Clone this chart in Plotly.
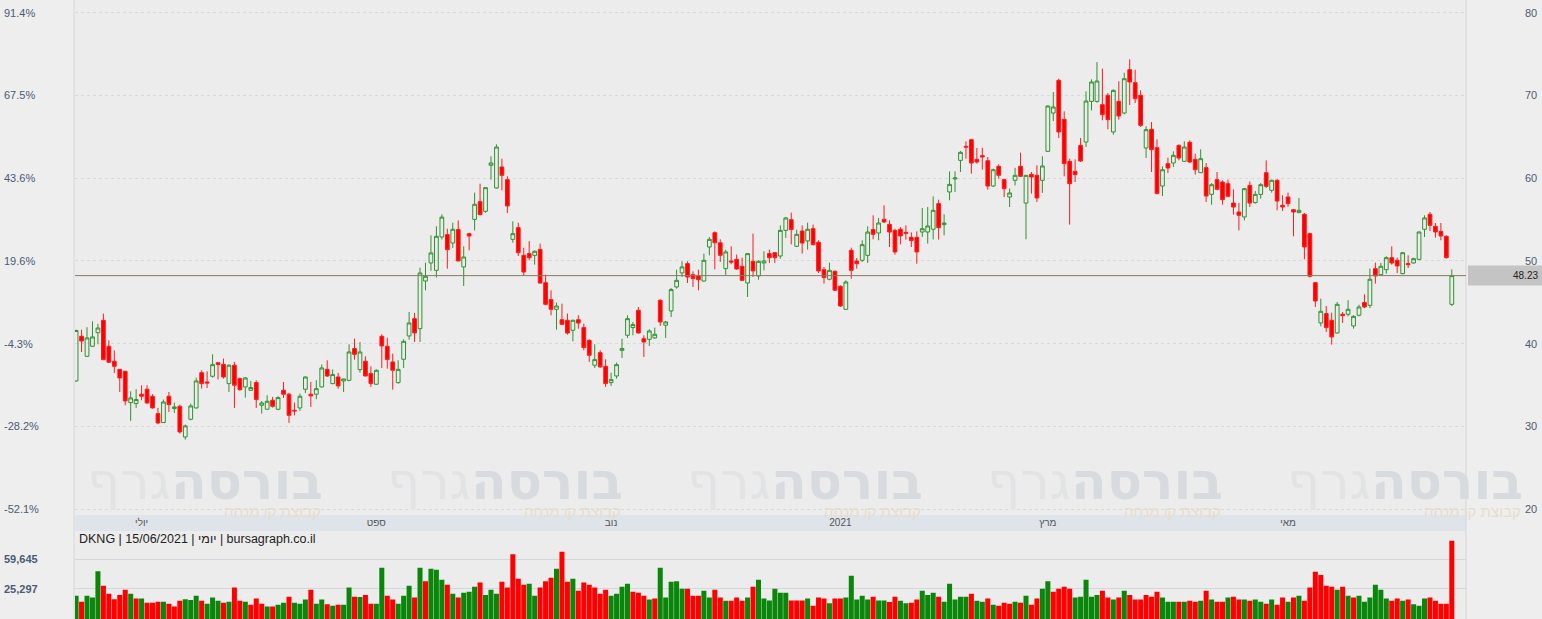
import plotly.graph_objects as go

# ---------------- data ----------------
opens = [35.5, 40.9, 38.48, 39.69, 41.34, 42.83, 39.69, 37.88, 36.9, 36.67,
         32.88, 32.76, 33.9, 34.5, 33.65, 31.55, 30.47, 33.65, 32.16, 32.44,
         28.73, 30.87, 32.24, 36.5, 35.38, 36.07, 37.7, 37.5, 35.18, 37.4,
         35.78, 34.78, 34.37, 35.3, 32.56, 32.08, 33.17, 32.08, 34.37, 33.9,
         31.96, 32.24, 34.5, 33.9, 33.9, 34.78, 36.9, 35.18, 35.98, 35.5,
         35.58, 39.41, 36.87, 37.88, 36.39, 35.1, 40.9, 39.69, 37.8, 35.3,
         38.12, 40.94, 43.03, 41.82, 47.58, 49.76, 48.87, 52.9, 53.18, 52.17,
         53.79, 49.28, 53.3, 55.03, 57.17, 56.0, 61.56, 58.82, 61.36, 59.83,
         52.62, 54.03, 50.68, 50.89, 50.68, 51.4, 47.38, 45.33, 44.16, 42.9,
         42.83, 41.62, 42.9, 41.95, 40.41, 37.4, 38.92, 37.27, 35.3, 36.1,
         39.2, 41.02, 41.95, 44.04, 40.61, 40.53, 40.7, 45.25, 42.23, 43.96,
         46.86, 48.55, 49.68, 48.35, 48.19, 47.58, 51.69, 53.42, 52.2, 49.07,
         50.0, 50.2, 49.36, 47.34, 49.96, 48.19, 49.76, 50.89, 51.0, 50.6,
         53.7, 54.99, 51.77, 53.62, 52.42, 53.9, 52.26, 48.95, 47.79, 48.75,
         46.94, 44.16, 51.29, 50.0, 50.08, 50.68, 53.79, 53.38, 55.03, 54.43,
         53.7, 53.83, 53.46, 52.86, 52.86, 53.5, 53.5, 53.83, 56.93, 54.39,
         58.34, 59.91, 62.16, 63.85, 64.66, 62.28, 62.73, 62.12, 59.06, 61.44,
         59.83, 57.73, 59.75, 61.44, 57.0, 60.47, 60.35, 59.75, 63.25, 67.88,
         71.83, 67.12, 62.04, 60.83, 63.97, 64.38, 69.29, 69.29, 68.89, 70.02,
         65.59, 69.29, 67.88, 73.12, 71.55, 70.02, 63.65, 65.91, 63.69, 59.06,
         61.76, 61.84, 63.97, 62.04, 64.34, 62.28, 60.67, 61.28, 58.05, 59.83,
         59.54, 59.34, 57.0, 55.92, 55.32, 59.14, 57.05, 58.05, 60.67, 58.54,
         59.75, 56.73, 57.73, 56.2, 55.84, 55.64, 53.3, 47.38, 42.51, 43.64,
         42.83, 41.3, 43.56, 43.56, 42.15, 43.44, 44.97, 44.64, 49.07, 48.35,
         48.95, 50.4, 50.08, 48.47, 49.68, 49.76, 50.2, 53.83, 55.64, 54.19,
         53.58, 52.98, 44.76]
highs = [41.7, 41.7, 42.0, 42.7, 42.4, 43.64, 40.4, 39.2, 36.9, 36.7,
         34.25, 34.5, 34.98, 34.98, 33.9, 32.24, 33.25, 34.17, 32.88, 32.64,
         30.23, 32.76, 35.9, 36.79, 36.67, 38.72, 37.8, 38.2, 37.5, 37.8,
         35.9, 35.98, 35.5, 35.58, 33.09, 33.77, 33.57, 33.65, 35.38, 34.05,
         32.9, 33.97, 36.07, 35.38, 35.58, 37.5, 38.0, 36.9, 36.47, 35.78,
         39.93, 40.6, 40.2, 38.48, 37.27, 36.9, 41.14, 40.73, 38.8, 38.0,
         40.53, 43.84, 43.72, 49.19, 49.8, 53.1, 54.19, 55.64, 53.9, 54.63,
         54.9, 51.77, 53.42, 58.26, 59.34, 58.94, 62.65, 64.1, 62.36, 60.23,
         54.79, 54.63, 51.6, 52.4, 51.29, 52.1, 48.35, 46.46, 44.97, 44.84,
         43.64, 42.9, 43.44, 42.43, 40.53, 39.93, 39.2, 38.12, 36.5, 37.72,
         40.6, 43.44, 42.63, 44.44, 41.02, 41.74, 41.95, 45.37, 42.75, 46.74,
         48.95, 49.96, 49.96, 48.75, 48.95, 50.89, 52.9, 53.58, 52.62, 51.37,
         51.77, 50.77, 50.4, 50.89, 53.3, 50.08, 51.17, 51.37, 51.09, 54.3,
         55.32, 55.84, 53.79, 54.3, 54.63, 54.39, 52.5, 49.28, 49.8, 48.87,
         47.06, 47.66, 51.61, 50.36, 52.5, 54.19, 55.52, 55.2, 56.73, 54.91,
         53.9, 54.1, 54.3, 53.46, 53.58, 56.4, 56.52, 57.8, 57.41, 55.64,
         60.83, 60.83, 63.29, 64.46, 64.7, 63.65, 63.69, 62.57, 61.16, 61.68,
         59.95, 58.74, 61.26, 63.09, 60.35, 60.75, 61.56, 62.65, 68.81, 70.42,
         72.03, 68.08, 62.36, 62.28, 64.86, 70.5, 71.95, 74.04, 73.24, 70.3,
         70.74, 71.71, 72.75, 74.37, 73.12, 70.62, 66.27, 66.79, 64.7, 61.44,
         62.48, 63.25, 64.1, 64.46, 64.58, 62.97, 63.49, 61.84, 59.42, 60.75,
         59.75, 59.83, 58.66, 57.0, 58.82, 59.62, 58.46, 59.42, 62.16, 59.83,
         59.87, 57.93, 58.26, 56.2, 57.61, 55.8, 53.42, 47.46, 45.45, 44.56,
         43.76, 45.05, 43.84, 45.25, 43.44, 44.72, 45.97, 49.07, 49.8, 49.76,
         50.56, 51.77, 50.4, 51.09, 50.68, 50.4, 53.58, 55.52, 55.92, 54.59,
         54.59, 53.1, 48.99]
lows = [35.4, 39.0, 38.4, 39.6, 39.93, 38.0, 37.7, 36.47, 34.17, 32.56,
        30.67, 32.24, 33.17, 32.76, 32.16, 30.27, 30.43, 31.76, 31.64, 29.14,
        28.41, 30.75, 32.16, 34.57, 34.65, 35.9, 35.7, 35.78, 34.17, 32.24,
        34.3, 33.49, 34.3, 32.24, 31.56, 32.04, 32.28, 31.96, 33.45, 30.43,
        31.35, 31.88, 34.05, 32.36, 33.29, 34.7, 35.98, 35.1, 34.57, 34.17,
        35.46, 38.08, 36.5, 36.06, 34.78, 35.06, 37.07, 36.99, 34.45, 35.18,
        37.07, 40.49, 40.21, 40.21, 46.46, 48.8, 47.99, 52.6, 49.07, 51.57,
        50.0, 46.98, 51.29, 53.7, 55.52, 55.84, 59.83, 58.74, 58.54, 55.8,
        52.2, 50.6, 48.19, 50.08, 49.56, 47.26, 44.64, 43.44, 41.7, 42.23,
        41.1, 40.29, 41.82, 39.2, 37.8, 37.07, 37.07, 34.78, 34.9, 35.78,
        38.28, 40.7, 41.02, 41.22, 38.4, 39.73, 40.61, 42.15, 40.7, 43.23,
        46.66, 48.07, 47.34, 46.86, 46.46, 47.5, 50.68, 49.0, 49.88, 48.27,
        49.6, 48.95, 47.58, 45.65, 48.07, 47.74, 48.87, 49.76, 49.76, 50.28,
        52.78, 52.0, 51.69, 50.89, 51.37, 51.89, 48.55, 47.26, 47.66, 46.38,
        44.44, 44.12, 47.87, 49.07, 49.88, 49.76, 52.62, 52.5, 54.59, 51.69,
        50.77, 52.0, 52.58, 51.69, 49.68, 52.9, 52.1, 52.6, 52.58, 53.1,
        57.33, 58.34, 60.75, 62.36, 60.55, 61.76, 61.03, 58.62, 58.94, 59.95,
        57.73, 56.52, 59.14, 60.15, 52.62, 58.14, 57.13, 58.22, 63.17, 66.91,
        64.86, 60.23, 54.39, 59.54, 61.96, 63.77, 68.2, 69.13, 67.0, 65.91,
        65.26, 67.08, 67.72, 68.85, 69.09, 66.19, 62.44, 60.75, 58.05, 57.85,
        60.63, 61.36, 62.16, 61.96, 61.84, 60.43, 60.63, 57.13, 56.8, 58.54,
        56.8, 57.73, 55.6, 53.7, 54.91, 56.52, 56.93, 57.53, 58.82, 58.26,
        56.12, 56.04, 56.52, 52.98, 55.8, 50.2, 47.99, 44.44, 42.1, 41.42,
        39.89, 41.22, 42.51, 43.31, 41.82, 43.31, 44.32, 44.32, 47.26, 48.27,
        48.47, 49.56, 48.55, 48.39, 49.15, 49.68, 50.08, 52.9, 53.62, 52.82,
        52.5, 50.28, 44.56]
closes = [41.6, 40.33, 40.7, 40.82, 41.9, 38.08, 37.76, 37.27, 35.86, 33.09,
          33.45, 33.25, 33.65, 32.84, 32.24, 30.43, 32.96, 32.64, 32.36, 29.34,
          30.07, 32.48, 35.5, 35.18, 35.26, 37.47, 37.5, 35.98, 37.4, 34.98,
          34.45, 35.86, 34.7, 33.25, 32.84, 33.05, 32.44, 33.49, 33.9, 31.35,
          31.88, 33.65, 35.98, 33.7, 34.57, 37.07, 36.1, 36.27, 34.9, 35.74,
          39.0, 38.72, 39.0, 36.1, 35.18, 36.79, 39.73, 38.08, 36.79, 36.9,
          40.29, 42.51, 41.3, 48.55, 48.15, 50.97, 52.98, 55.3, 51.37, 53.83,
          50.0, 50.48, 53.02, 56.85, 55.6, 58.86, 61.84, 63.77, 60.35, 56.65,
          53.3, 51.0, 48.67, 50.4, 51.17, 47.34, 44.76, 44.16, 44.56, 42.35,
          41.3, 42.83, 42.5, 39.53, 38.6, 38.08, 37.2, 35.18, 35.66, 37.47,
          39.41, 43.03, 42.31, 41.3, 40.21, 41.54, 41.14, 42.63, 42.63, 46.54,
          47.66, 49.28, 48.07, 47.87, 47.74, 50.08, 52.62, 52.2, 50.68, 51.09,
          49.88, 49.03, 47.66, 50.89, 48.8, 49.96, 50.0, 50.4, 50.4, 53.7,
          55.2, 53.79, 53.22, 52.17, 53.83, 51.97, 48.8, 47.99, 48.87, 46.46,
          44.56, 47.46, 48.87, 49.68, 51.97, 53.5, 53.22, 54.59, 54.71, 53.5,
          51.09, 53.02, 53.34, 52.46, 51.09, 53.9, 54.23, 56.12, 54.03, 54.59,
          59.26, 60.03, 63.13, 63.77, 61.84, 61.96, 62.57, 59.06, 61.03, 60.35,
          58.74, 58.22, 60.35, 60.23, 60.35, 60.15, 57.61, 61.48, 68.73, 68.61,
          65.59, 61.76, 59.34, 60.43, 62.08, 69.33, 71.63, 71.75, 67.68, 67.08,
          70.62, 67.52, 72.03, 71.63, 69.61, 66.39, 65.87, 63.45, 58.14, 61.03,
          61.24, 62.77, 62.44, 63.77, 61.96, 61.03, 62.36, 57.85, 59.22, 58.66,
          57.41, 57.81, 56.52, 55.52, 58.74, 57.0, 58.05, 59.22, 59.02, 59.75,
          57.25, 56.52, 56.93, 55.92, 56.12, 51.69, 48.15, 45.17, 43.92, 41.95,
          40.82, 44.76, 43.4, 44.16, 43.31, 44.44, 44.44, 47.79, 48.19, 49.36,
          50.4, 49.76, 49.4, 51.0, 49.56, 50.28, 53.5, 55.2, 54.31, 53.5,
          53.02, 50.4, 48.23]
volumes = [20600, 17300, 20600, 19500, 42000, 27600, 21900, 18600, 21000, 24500,
           21900, 19000, 19000, 16800, 16800, 17300, 17300, 16300, 15000, 17800,
           18600, 18200, 20600, 17800, 16300, 19500, 17800, 16800, 17300, 26100,
           17800, 17300, 15800, 19000, 16300, 15000, 15000, 15800, 16800, 20000,
           16800, 16300, 18400, 24500, 16300, 18400, 16100, 15400, 15800, 15800,
           26100, 20000, 19900, 21100, 16300, 16300, 46700, 20600, 18400, 16300,
           20600, 27600, 19500, 46700, 31500, 45300, 44000, 32900, 28400, 21900,
           19500, 22500, 23200, 26800, 30200, 21100, 24500, 21900, 31000, 26100,
           69000, 33900, 28400, 29300, 20600, 26100, 31500, 34900, 45300, 74500,
           31000, 33900, 23800, 30200, 28400, 26100, 21900, 24500, 20600, 21900,
           26800, 29300, 23200, 22500, 20600, 18400, 19000, 46700, 19500, 31000,
           31500, 25300, 25300, 20600, 20600, 23800, 19500, 24500, 19500, 17800,
           17800, 19500, 17800, 19500, 26800, 32900, 19000, 17900, 25300, 22500,
           22500, 17900, 17900, 17900, 19000, 15400, 19500, 19000, 16600, 19000,
           19000, 19500, 37000, 18400, 20600, 18400, 20000, 17900, 17900, 17100,
           20000, 17800, 16500, 16800, 18400, 23800, 21100, 22500, 20000, 17300,
           29300, 18400, 20000, 20000, 21900, 17800, 17300, 19000, 15800, 15400,
           16800, 16300, 17300, 16800, 20600, 15800, 19000, 25300, 31500, 23200,
           25300, 26800, 25300, 19500, 20000, 32900, 20000, 21100, 23800, 19500,
           18400, 19500, 23800, 21100, 18400, 18400, 21100, 20000, 23200, 19500,
           17300, 17300, 17300, 17300, 17800, 17300, 17800, 23800, 18400, 17300,
           17300, 19500, 20000, 18400, 18400, 17800, 18400, 17300, 16300, 18400,
           15800, 19500, 17300, 19500, 20600, 17800, 26100, 41500, 37800, 27600,
           26800, 24500, 26800, 20600, 19500, 20600, 17300, 19500, 28400, 24500,
           19000, 17800, 19000, 17800, 18400, 16100, 15400, 19000, 19500, 17800,
           16300, 16300, 102600]

month_labels = ['יולי', 'ספט', 'נוב', '2021', 'מרץ', 'מאי']
month_pos = [12, 55, 98, 140, 178, 222]
price_ticks = [20, 30, 40, 50, 60, 70, 80]
pct_labels = ['-52.1%', '-28.2%', '-4.3%', '19.6%', '43.6%', '67.5%', '91.4%']
vol_ticks = [25297, 59645]
vol_labels = ['25,297', '59,645']
title_text = 'DKNG | 15/06/2021 | יומי | bursagraph.co.il'
brand = 'בורסה'
brand2 = 'גרף'
brand_sub = 'קבוצת קו מנחה'

# ---------------- layout geometry ----------------
W, H = 1542, 619
X0, X1 = 75 / W, 1466 / W
MAIN_BOT = 1 - 515 / H
BAND_TOP = 1 - 515 / H
BAND_BOT = 1 - 531 / H
VOL_TOP = 88 / H
PX_PER_UNIT = 8.275          # price-axis scale of the reference (px per $1)

idx = list(range(len(closes)))
up_green = '#0a870a'
down_red = '#ff0000'
vol_colors = [up_green if (i == 0 or closes[i] >= closes[i - 1]) else down_red for i in idx]

fig = go.Figure()

fig.add_trace(go.Candlestick(
    x=idx, open=opens, high=highs, low=lows, close=closes,
    xaxis='x', yaxis='y',
    increasing=dict(line=dict(color='#2f932f', width=1), fillcolor='rgba(0,0,0,0)'),
    decreasing=dict(line=dict(color='#ff1a1a', width=1), fillcolor='#ff0000'),
    whiskerwidth=0, showlegend=False, hoverinfo='skip'))

# invisible helper trace so that the percent (left) axis is drawn
fig.add_trace(go.Scatter(x=idx, y=closes, xaxis='x', yaxis='y3', mode='lines',
                         line=dict(color='rgba(0,0,0,0)', width=0),
                         showlegend=False, hoverinfo='skip'))

fig.add_trace(go.Bar(x=idx, y=volumes, xaxis='x2', yaxis='y2',
                     marker=dict(color=vol_colors, line=dict(width=0)),
                     showlegend=False, hoverinfo='skip'))

yr = [19.30, 81.54]

fig.update_layout(
    width=W, height=H,
    margin=dict(l=0, r=0, t=0, b=0, pad=0, autoexpand=False),
    paper_bgcolor='#eeeeee', plot_bgcolor='#ececec',
    font=dict(family='Liberation Sans, Arial, sans-serif', color='#4b5b72'),
    boxgap=0.02, bargap=0.08,
    xaxis=dict(domain=[X0, X1], anchor='y', range=[-0.2, 254.6], automargin=False,
               rangeslider=dict(visible=False),
               tickmode='array', tickvals=month_pos, ticktext=month_labels,
               tickfont=dict(size=10, color='#555555'), ticks='',
               showgrid=False, zeroline=False, showline=False),
    yaxis=dict(domain=[MAIN_BOT, 1], range=yr, anchor='free', position=1524 / W,
               side='right', automargin=False, ticklabeloverflow='allow',
               tickmode='array', tickvals=price_ticks,
               tickfont=dict(size=11, color='#4b5b72'),
               showgrid=True, gridcolor='#d8d8d8', griddash='dot', gridwidth=1,
               zeroline=False, showline=False, ticks=''),
    yaxis3=dict(overlaying='y', range=yr, anchor='free', position=0, side='left',
                automargin=False,
                ticklabelposition='inside', ticklabeloverflow='allow',
                tickmode='array', tickvals=price_ticks, ticktext=pct_labels,
                tickfont=dict(size=11, color='#4b5b72'),
                showgrid=False, zeroline=False, showline=False, ticks=''),
    xaxis2=dict(domain=[X0, X1], anchor='y2', matches='x', showticklabels=False,
                automargin=False,
                showgrid=False, zeroline=False, showline=False, ticks=''),
    yaxis2=dict(domain=[0, VOL_TOP], type='log', range=[4.019, 5.134],
                anchor='free', position=0, side='left', automargin=False,
                ticklabelposition='inside', ticklabeloverflow='allow',
                tickmode='array', tickvals=vol_ticks, ticktext=vol_labels,
                tickfont=dict(size=11, color='#4b5b72', weight='bold'),
                showgrid=True, gridcolor='#d2d6dd', gridwidth=1,
                zeroline=False, showline=False, ticks=''),
)

half_tag = 10 / PX_PER_UNIT
shapes = [
    # date band between the price and volume panels
    dict(type='rect', xref='paper', yref='paper', x0=X0, x1=X1, y0=BAND_BOT, y1=BAND_TOP,
         fillcolor='#dfe3ea', line=dict(width=0), layer='below'),
    # panel borders
    dict(type='line', xref='paper', yref='paper', x0=X0 - 1 / W, x1=X0 - 1 / W, y0=0, y1=1,
         line=dict(color='#d6d6d6', width=1)),
    dict(type='line', xref='paper', yref='paper', x0=X1, x1=X1, y0=0, y1=1,
         line=dict(color='#d6d6d6', width=1)),
    # last price line
    dict(type='line', xref='paper', yref='y', x0=X0, x1=X1, y0=closes[-1], y1=closes[-1],
         line=dict(color='#8a7a60', width=1)),
    # last price tag background
    dict(type='rect', xref='paper', yref='y', x0=1468 / W, x1=1, y0=closes[-1] - half_tag,
         y1=closes[-1] + half_tag, fillcolor='#c4c4c4', line=dict(width=0)),
]
fig.update_layout(shapes=shapes)

ann = []
# watermark logos
for right_px in [325, 625, 925, 1225, 1525]:
    ann.append(dict(xref='paper', yref='paper', x=right_px / W, y=1 - 481 / H,
                    xanchor='right', yanchor='middle', showarrow=False,
                    text=f"<span style='color:#d7dbdf'><b>{brand}</b></span>"
                         f"<span style='color:#e2e3e4'>{brand2}</span>",
                    font=dict(size=52, family='DejaVu Sans, Liberation Sans, sans-serif')))
    ann.append(dict(xref='paper', yref='paper', x=(right_px - 2) / W, y=1 - 511 / H,
                    xanchor='right', yanchor='middle', showarrow=False,
                    text=brand_sub,
                    font=dict(size=15, color='#e8dccb',
                              family='Liberation Sans, DejaVu Sans, sans-serif')))
# chart caption in the volume panel
ann.append(dict(xref='paper', yref='paper', x=77 / W, y=1 - 539 / H,
                xanchor='left', yanchor='middle', showarrow=False,
                text=title_text, font=dict(size=12.5, color='#222222')))
# last price tag text
ann.append(dict(xref='paper', yref='y', x=1540 / W, y=closes[-1], xanchor='right',
                yanchor='middle', showarrow=False, text=f"{closes[-1]:.2f}",
                font=dict(size=10, color='#222222')))
fig.update_layout(annotations=ann)

# remove the browser's default 8px page margin so the figure fills the window
fig.write_html('out.html',
               config={'displayModeBar': False},
               post_script="document.body.style.margin='0';document.body.style.overflow='hidden';")
